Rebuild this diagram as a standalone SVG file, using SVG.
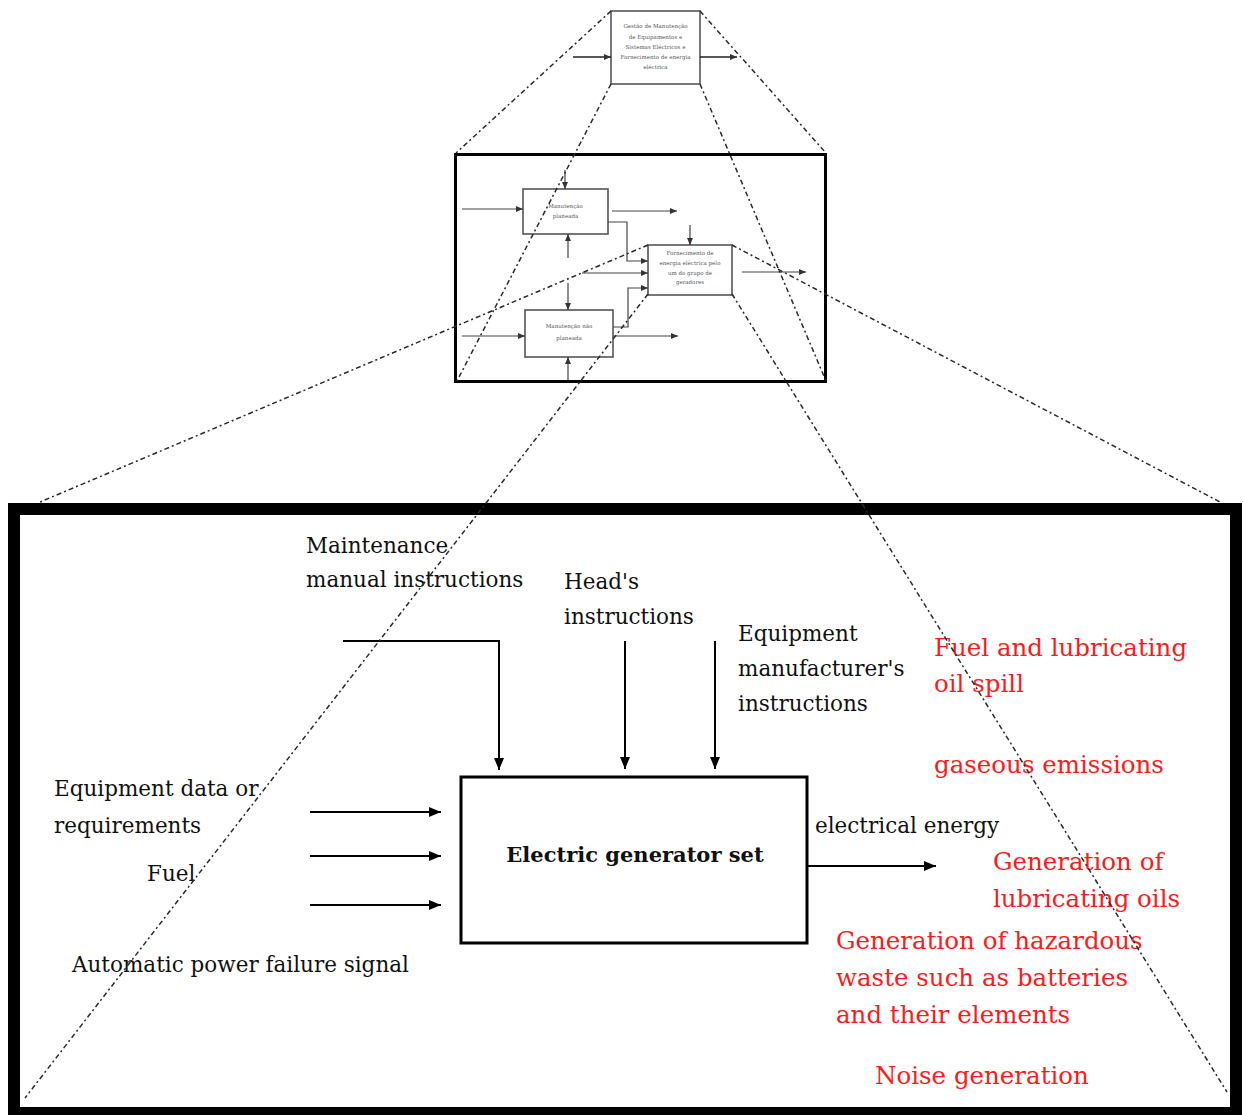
<svg xmlns="http://www.w3.org/2000/svg" width="1243" height="1115" viewBox="0 0 1243 1115">
  <style>
    .frame { fill: none; stroke: #000; }
    .mini { fill: #fff; stroke: #555; stroke-width: 1.6; }
    .wire { fill: none; stroke: #222; stroke-width: 1.4; }
    .wire-s { fill: none; stroke: #444; stroke-width: 1.2; }
    .wire-b { fill: none; stroke: #000; stroke-width: 2; }
    .zoom { fill: none; stroke: #2a2a2a; stroke-width: 1.5; stroke-dasharray: 5 3 2 3; }
    .tiny { font-family: "DejaVu Serif", serif; font-size: 5.5px; fill: #555; text-anchor: middle; }
    .lbl { font-family: "DejaVu Serif", serif; font-size: 21.5px; fill: #111; }
    .red { font-family: "DejaVu Serif", serif; font-size: 24.5px; fill: #ff1a1a; }
    .title { font-family: "DejaVu Serif", serif; font-size: 21px; font-weight: bold; fill: #111; text-anchor: middle; }
  </style>
  <defs>
    <marker id="ah" markerWidth="12" markerHeight="10" refX="12" refY="5" orient="auto" markerUnits="userSpaceOnUse">
      <path d="M0,0 L12,5 L0,10 Z" fill="#000"/>
    </marker>
    <marker id="ah-s" markerWidth="7" markerHeight="6" refX="7" refY="3" orient="auto" markerUnits="userSpaceOnUse">
      <path d="M0,0 L7,3 L0,6 Z" fill="#333"/>
    </marker>
  </defs>

  <rect width="1243" height="1115" fill="#fff"/>

  <!-- top level: overall activity -->
  <g id="node-top">
    <rect class="mini" x="611" y="11" width="89" height="73"/>
    <text class="tiny" x="655.5" y="28">Gestão de Manutenção</text>
    <text class="tiny" x="655.5" y="39">de Equipamentos e</text>
    <text class="tiny" x="655.5" y="49">Sistemas Eléctricos e</text>
    <text class="tiny" x="655.5" y="59">Fornecimento de energia</text>
    <text class="tiny" x="655.5" y="69">eléctrica</text>
  </g>

  <!-- middle level: decomposition frame -->
  <g id="node-middle">
    <rect class="frame" x="455.5" y="154.5" width="370" height="227" stroke-width="3"/>
  </g>
  <g id="node-planned">
    <rect class="mini" x="523" y="189" width="85" height="45"/>
    <text class="tiny" x="565.5" y="208">Manutenção</text>
    <text class="tiny" x="565.5" y="218">planeada</text>
  </g>
  <g id="node-supply">
    <rect class="mini" x="648" y="245" width="84" height="50"/>
    <text class="tiny" x="690" y="255">Fornecimento de</text>
    <text class="tiny" x="690" y="265">energia eléctrica pelo</text>
    <text class="tiny" x="690" y="275">um do grupo de</text>
    <text class="tiny" x="690" y="284">geradores</text>
  </g>
  <g id="node-unplanned">
    <rect class="mini" x="525" y="310" width="88" height="47"/>
    <text class="tiny" x="569" y="328">Manutenção não</text>
    <text class="tiny" x="569" y="340">planeada</text>
  </g>

  <!-- bottom level: detailed view -->
  <g id="node-detail">
    <rect class="frame" x="14" y="509" width="1222" height="604" stroke-width="12"/>
  </g>
  <g id="node-generator">
    <rect class="frame" x="461" y="777" width="346" height="166" stroke-width="3"/>
    <text class="title" x="635" y="862">Electric generator set</text>
  </g>

  <!-- labels -->
  <g id="labels">
    <text class="lbl" x="306" y="553">Maintenance</text>
    <text class="lbl" x="306" y="587">manual instructions</text>
    <text class="lbl" x="564" y="589">Head's</text>
    <text class="lbl" x="564" y="624">instructions</text>
    <text class="lbl" x="738" y="641">Equipment</text>
    <text class="lbl" x="738" y="676">manufacturer's</text>
    <text class="lbl" x="738" y="711">instructions</text>
    <text class="lbl" x="54" y="796">Equipment data or</text>
    <text class="lbl" x="54" y="833">requirements</text>
    <text class="lbl" x="147" y="881">Fuel</text>
    <text class="lbl" x="72" y="972">Automatic power failure signal</text>
    <text class="lbl" x="815" y="833">electrical energy</text>
  </g>
  <g id="aspects">
    <text class="red" x="934" y="656">Fuel and lubricating</text>
    <text class="red" x="934" y="692">oil spill</text>
    <text class="red" x="934" y="773">gaseous emissions</text>
    <text class="red" x="993" y="870">Generation of</text>
    <text class="red" x="993" y="907">lubricating oils</text>
    <text class="red" x="836" y="949">Generation of hazardous</text>
    <text class="red" x="836" y="986">waste such as batteries</text>
    <text class="red" x="836" y="1023">and their elements</text>
    <text class="red" x="875" y="1084">Noise generation</text>
  </g>

  <g id="connectors">
    <!-- top level -->
    <line class="wire" x1="573" y1="57" x2="611" y2="57" marker-end="url(#ah-s)"/>
    <line class="wire" x1="700" y1="57" x2="737" y2="57" marker-end="url(#ah-s)"/>

    <!-- middle level -->
    <line class="wire-s" x1="462" y1="209" x2="523" y2="209" marker-end="url(#ah-s)"/>
    <line class="wire-s" x1="565" y1="170" x2="565" y2="189" marker-end="url(#ah-s)"/>
    <line class="wire-s" x1="568" y1="258" x2="568" y2="234" marker-end="url(#ah-s)"/>
    <line class="wire-s" x1="612" y1="211" x2="677" y2="211" marker-end="url(#ah-s)"/>
    <polyline class="wire-s" points="608,222 627,222 627,261 648,261" marker-end="url(#ah-s)"/>
    <line class="wire-s" x1="690" y1="225" x2="690" y2="245" marker-end="url(#ah-s)"/>
    <line class="wire-s" x1="582" y1="273" x2="648" y2="273" marker-end="url(#ah-s)"/>
    <polyline class="wire-s" points="613,327 628,327 628,288 648,288" marker-end="url(#ah-s)"/>
    <line class="wire-s" x1="568" y1="283" x2="568" y2="310" marker-end="url(#ah-s)"/>
    <line class="wire-s" x1="462" y1="336" x2="525" y2="336" marker-end="url(#ah-s)"/>
    <line class="wire-s" x1="613" y1="336" x2="678" y2="336" marker-end="url(#ah-s)"/>
    <line class="wire-s" x1="568" y1="380" x2="568" y2="357" marker-end="url(#ah-s)"/>
    <line class="wire-s" x1="742" y1="272" x2="806" y2="272" marker-end="url(#ah-s)"/>

    <!-- bottom level -->
    <polyline class="wire-b" points="343,641 499,641 499,770" marker-end="url(#ah)"/>
    <line class="wire-b" x1="625" y1="641" x2="625" y2="769" marker-end="url(#ah)"/>
    <line class="wire-b" x1="715" y1="641" x2="715" y2="769" marker-end="url(#ah)"/>
    <line class="wire-b" x1="310" y1="812" x2="441" y2="812" marker-end="url(#ah)"/>
    <line class="wire-b" x1="310" y1="856" x2="441" y2="856" marker-end="url(#ah)"/>
    <line class="wire-b" x1="310" y1="905" x2="441" y2="905" marker-end="url(#ah)"/>
    <line class="wire-b" x1="808" y1="866" x2="936" y2="866" marker-end="url(#ah)"/>

    <!-- zoom guide lines between levels -->
    <line class="zoom" x1="611" y1="11" x2="456" y2="153"/>
    <line class="zoom" x1="700" y1="11" x2="826" y2="153"/>
    <line class="zoom" x1="611" y1="84" x2="457" y2="381"/>
    <line class="zoom" x1="700" y1="84" x2="826" y2="381"/>
    <line class="zoom" x1="648" y1="245" x2="40" y2="502"/>
    <line class="zoom" x1="732" y1="245" x2="1220" y2="502"/>
    <line class="zoom" x1="648" y1="294" x2="25" y2="1098"/>
    <line class="zoom" x1="732" y1="294" x2="1227" y2="1092"/>
  </g>
</svg>
